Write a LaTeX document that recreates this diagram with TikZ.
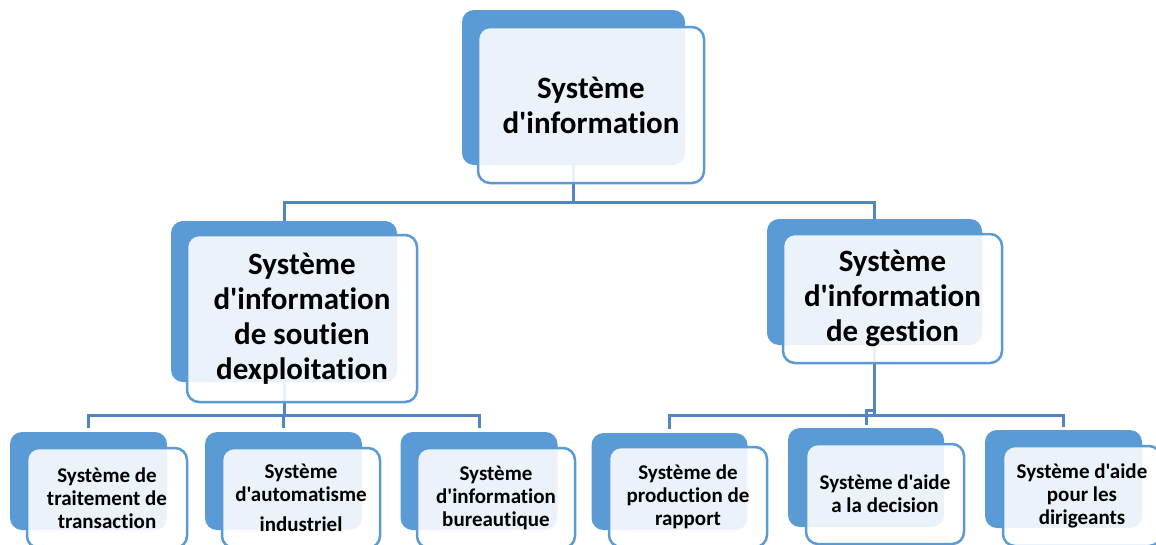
\documentclass[tikz,border=0pt]{standalone}
\usepackage{fontspec}
\setmainfont{Carlito}[Ligatures={TeXOff,NoCommon}]
\definecolor{siblue}{HTML}{5B9BD5}
\definecolor{silink}{HTML}{4F86C3}
\tikzset{
  backbox/.style={rectangle, rounded corners=12pt, fill=siblue, inner sep=0pt},
  frontbox/.style={rectangle, rounded corners=12pt, draw=siblue, line width=2.5pt,
    fill=white, fill opacity=0.88, text opacity=1, inner sep=0pt, align=center,
    font=\bfseries},
  bigtext/.style={font=\bfseries\fontsize{31}{35}\selectfont},
  smalltext/.style={font=\bfseries\fontsize{21}{23}\selectfont},
  conn/.style={draw=silink, line width=3pt}
}
\begin{document}
\begin{tikzpicture}[x=1pt,y=-1pt]
            \useasboundingbox (0,0) rectangle (1156,544);
            \clip (0,0) rectangle (1156,544);
            \node[backbox, minimum width=223pt, minimum height=155pt] (sib) at (573.5,87.5) {};
            \node[backbox, minimum width=226pt, minimum height=161pt] (soeb) at (284,301.5) {};
            \node[backbox, minimum width=215pt, minimum height=126pt] (sigb) at (874.5,282) {};
            \node[backbox, minimum width=157pt, minimum height=98pt] (stb) at (88.5,481) {};
            \node[backbox, minimum width=157pt, minimum height=98pt] (sab) at (283.5,481) {};
            \node[backbox, minimum width=157pt, minimum height=98pt] (sbb) at (479,481) {};
            \node[backbox, minimum width=156pt, minimum height=97pt] (spb) at (669.5,481.5) {};
            \node[backbox, minimum width=156pt, minimum height=99pt] (sdb) at (866,477.5) {};
            \node[backbox, minimum width=157pt, minimum height=98pt] (sdgb) at (1063.5,479) {};
            \draw[conn] (sib.south) -- ++(0,37) coordinate (j1);
            \draw[conn] (j1) -| (soeb.north);
            \draw[conn] (j1) -| (sigb.north);
            \draw[conn] (soeb.south) -- ++(0,33) coordinate (j2);
            \draw[conn, shorten >=4pt] (j2) -| (stb.north);
            \draw[conn, shorten >=4pt] (j2) -| (sab.north);
            \draw[conn, shorten >=4pt] (j2) -| (sbb.north);
            \draw[conn] (sigb.south) -- ++(0,71) coordinate (j3);
            \draw[conn, shorten >=4pt] ([yshift=1pt]j3) -| (spb.north);
            \draw[conn, shorten >=3pt] ([yshift=1pt]j3) -| (sdgb.north);
            \draw[conn] ([yshift=3pt]sdb.north) |- ([yshift=6pt]j3);
            \node[frontbox, bigtext, minimum width=226pt, minimum height=156pt] (si) at (591,105) {Système\\d'information};
            \node[frontbox, bigtext, minimum width=230pt, minimum height=167pt] (soe) at (302,318.5) {Système\\d'information\\de soutien\\dexploitation};
            \node[frontbox, bigtext, minimum width=219pt, minimum height=129pt] (sig) at (892.5,298.5) {Système\\d'information\\de gestion};
            \node[frontbox, smalltext, minimum width=160pt, minimum height=100pt] (st) at (107,498) {Système de\\traitement de\\transaction};
            \node[frontbox, smalltext, minimum width=158pt, minimum height=100pt] (sa) at (301,498) {Système\\d'automatisme\\[7pt]industriel};
            \node[frontbox, smalltext, minimum width=158pt, minimum height=100pt] (sb) at (496,498) {Système\\d'information\\bureautique};
            \node[frontbox, smalltext, minimum width=158pt, minimum height=100pt] (sp) at (688,497) {Système de\\production de\\rapport};
            \node[frontbox, smalltext, minimum width=158pt, minimum height=100pt] (sd) at (885,494) {Système d'aide\\a la decision};
            \node[frontbox, smalltext, minimum width=158pt, minimum height=100pt] (sdg) at (1082,496) {Système d'aide\\pour les\\dirigeants};
          \end{tikzpicture}
\end{document}
